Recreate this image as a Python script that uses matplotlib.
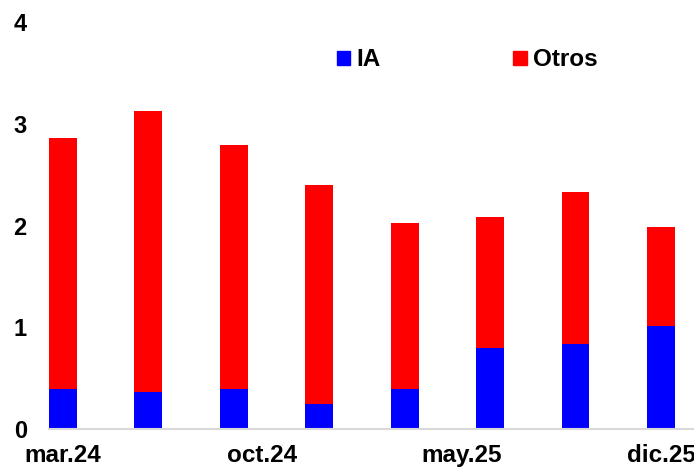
import numpy as np
import matplotlib
matplotlib.use('Agg')
import matplotlib.pyplot as plt
from matplotlib.patches import Patch

plt.rcParams['font.family'] = ['Liberation Sans', 'DejaVu Sans']
plt.rcParams['font.weight'] = 'bold'

# months since mar.24, quarterly observations
months = [0, 3, 6, 9, 12, 15, 18, 21]
ia = [0.39, 0.36, 0.39, 0.245, 0.39, 0.80, 0.84, 1.01]
total = [2.86, 3.13, 2.79, 2.40, 2.02, 2.08, 2.33, 1.99]
otros = [t - a for t, a in zip(total, ia)]

tick_months = [0, 7, 14, 21]
tick_labels = ['mar.24', 'oct.24', 'may.25', 'dic.25']

fig = plt.figure(figsize=(6.94, 4.70), dpi=100)
ax = fig.add_axes([49 / 694, 41 / 470, 645 / 694, 407 / 470])

ax.bar(months, ia, width=0.98, color='#0000ff', label='IA')
ax.bar(months, otros, bottom=ia, width=0.98, color='#ff0000', label='Otros')

ax.set_xlim(-0.49, 22.16)
ax.set_ylim(0, 4)
ax.set_yticks([0, 1, 2, 3, 4])
ax.set_xticks(tick_months)
ax.set_xticklabels(tick_labels)
ax.tick_params(axis='both', length=0)
ax.tick_params(axis='y', pad=16, labelsize=17)
ax.tick_params(axis='x', pad=11, labelsize=17.5)

for s in ['top', 'right', 'left']:
    ax.spines[s].set_visible(False)
ax.spines['bottom'].set_color('#d9d9d9')
ax.spines['bottom'].set_linewidth(1.5)

handles = [Patch(color='#0000ff', label='IA'), Patch(color='#ff0000', label='Otros')]
fig.legend(handles=handles, loc='center left', bbox_to_anchor=(337 / 694, 1 - 60 / 470),
           ncol=2, frameon=False, fontsize=17.5, handlelength=0.55, handleheight=0.55,
           handletextpad=0.25, columnspacing=5.45, borderpad=0, borderaxespad=0)

plt.savefig('out.png', dpi=100)
plt.close()
